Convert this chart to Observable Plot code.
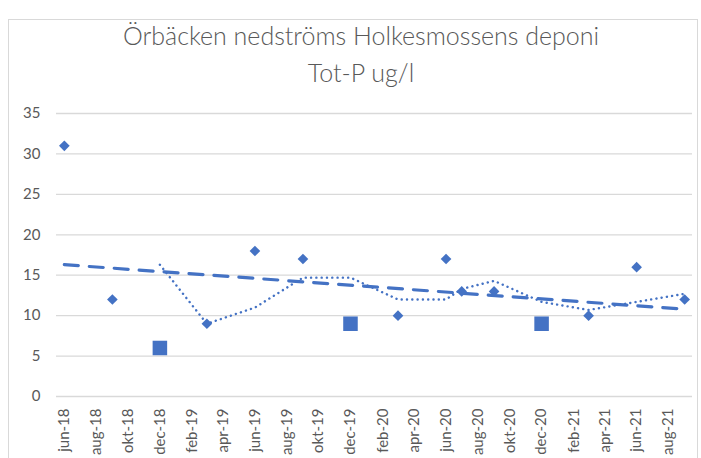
<!DOCTYPE html>
<html>
<head>
<meta charset="utf-8">
<script src="https://cdn.jsdelivr.net/npm/d3@7"></script>
<script src="https://cdn.jsdelivr.net/npm/@observablehq/plot@0.6"></script>
<style>
  html, body { margin: 0; padding: 0; background: #fff; }
  #wrap { position: relative; width: 701px; height: 458px; overflow: hidden; }
  #frame { position: absolute; left: 8px; top: 19px; width: 690px; height: 460px; border: 1px solid #d9d9d9; box-sizing: border-box; }
  #title { position: absolute; left: 0; top: 17px; width: 722px; text-align: center; font-family: Lato, sans-serif; font-weight: 300; font-size: 25px; line-height: 37px; color: #595959; }
  #chart { position: absolute; left: 0; top: 0; }
</style>
</head>
<body>
<div id="wrap">
  <div id="frame"></div>
  <div id="chart"></div>
  <div id="title">Örbäcken nedströms Holkesmossens deponi<br>Tot-P ug/l</div>
</div>
<script>
// Measured samples (diamond markers)
const diamondMonths = ["2018-06","2018-09","2019-03","2019-06","2019-09","2020-03","2020-06","2020-07","2020-09","2021-03","2021-06","2021-09"];
const diamondValues = [31, 12, 9, 18, 17, 10, 17, 13, 13, 10, 16, 12];
// December samples (square markers)
const squareMonths = ["2018-12","2019-12","2020-12"];
const squareValues = [6, 9, 9];
// Moving average (dotted line)
const maMonths = ["2018-12","2019-03","2019-06","2019-09","2019-12","2020-03","2020-06","2020-07","2020-09","2020-12","2021-03","2021-06","2021-09"];
const maValues = [16.3, 9, 11, 14.7, 14.7, 12, 12, 13.3, 14.3, 11.7, 10.7, 11.7, 12.7];
// Linear trend (dashed line)
const trendMonths = ["2018-06","2021-09"];
const trendValues = [16.3, 10.8];
// Axis ticks
const tickMonths = ["2018-06","2018-08","2018-10","2018-12","2019-02","2019-04","2019-06","2019-08","2019-10","2019-12","2020-02","2020-04","2020-06","2020-08","2020-10","2020-12","2021-02","2021-04","2021-06","2021-08"];
const tickLabels = ["jun-18","aug-18","okt-18","dec-18","feb-19","apr-19","jun-19","aug-19","okt-19","dec-19","feb-20","apr-20","jun-20","aug-20","okt-20","dec-20","feb-21","apr-21","jun-21","aug-21"];
const yTicks = [0, 5, 10, 15, 20, 25, 30, 35];

const parse = d3.utcParse("%Y-%m");
const rows = (months, values) => months.map((m, i) => ({date: parse(m), value: values[i]}));
const diamonds = rows(diamondMonths, diamondValues);
const squares = rows(squareMonths, squareValues);
const ma = rows(maMonths, maValues);
const trend = rows(trendMonths, trendValues);
const tickDates = tickMonths.map(parse);
const labelOf = new Map(tickDates.map((d, i) => [+d, tickLabels[i]]));

const blue = "#4472C4";
const chart = Plot.plot({
  width: 701,
  height: 458,
  marginLeft: 56,
  marginRight: 9,
  marginTop: 113,
  marginBottom: 62,
  style: {fontFamily: "Lato, sans-serif", fontSize: "15px", color: "#595959", background: "transparent"},
  x: {type: "utc", domain: [d3.utcDay.offset(parse("2018-06"), -15), d3.utcDay.offset(parse("2021-09"), 15)]},
  y: {domain: [0, 35]},
  marks: [
    Plot.gridY(yTicks, {stroke: "#d9d9d9", strokeOpacity: 1, strokeWidth: 1.3}),
    Plot.axisY(yTicks, {tickSize: 0, tickPadding: 16, label: null}),
    Plot.axisX(tickDates, {tickSize: 0, tickPadding: 12, tickRotate: -90, tickFormat: d => labelOf.get(+d), label: null}),
    Plot.line(trend, {x: "date", y: "value", stroke: blue, strokeWidth: 3.2, strokeDasharray: "14,11"}),
    Plot.line(ma, {x: "date", y: "value", stroke: blue, strokeWidth: 2.4, strokeLinecap: "round", strokeDasharray: "0.1,5.2"}),
    Plot.dot(diamonds, {x: "date", y: "value", symbol: "diamond2", r: 4.8, fill: blue, stroke: "none"}),
    Plot.dot(squares, {x: "date", y: "value", symbol: "square", r: 8.2, fill: blue, stroke: "none"})
  ]
});
document.getElementById("chart").appendChild(chart);
</script>
</body>
</html>
